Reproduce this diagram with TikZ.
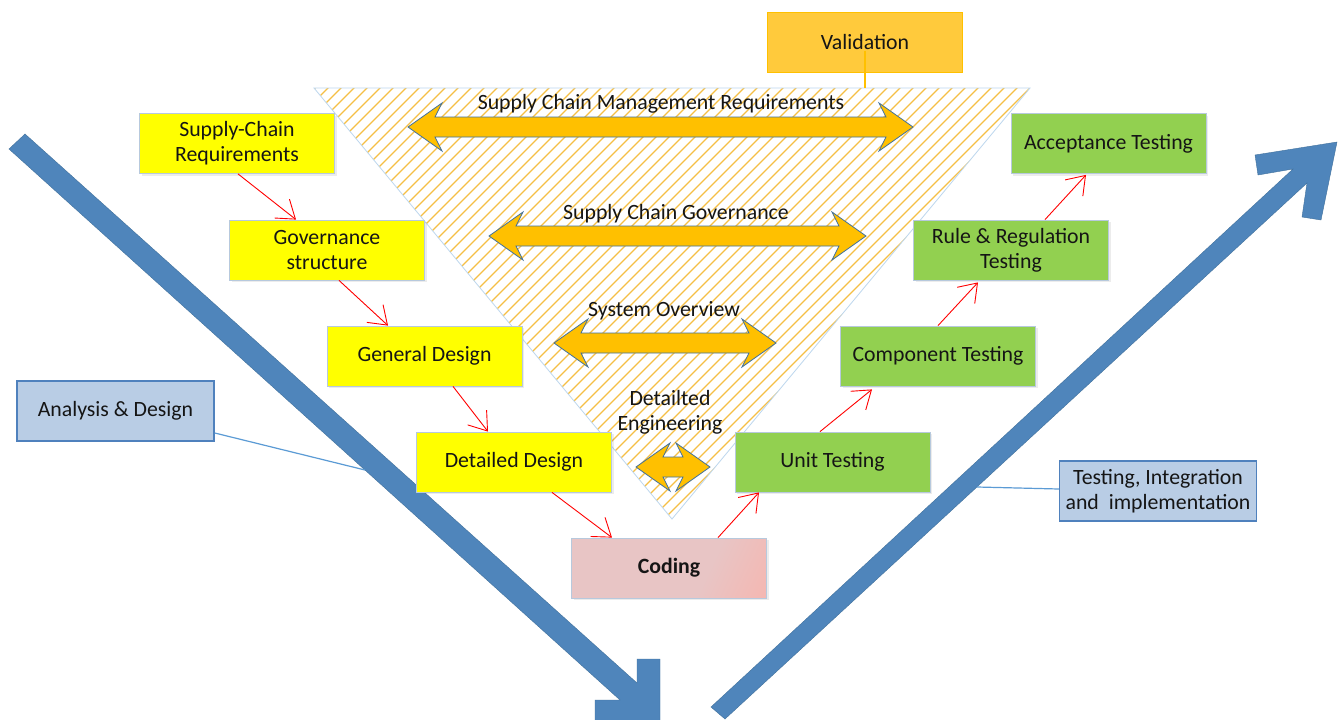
\documentclass[tikz,border=0pt]{standalone}
\usepackage{fontspec}
\setmainfont{Carlito}
\usetikzlibrary{arrows.meta,shadows}
\definecolor{yel}{HTML}{FFFF00}
\definecolor{grn}{HTML}{92D050}
\definecolor{boxline}{HTML}{B7C9DD}
\definecolor{orng}{HTML}{FFC000}
\definecolor{arrline}{HTML}{41719C}
\definecolor{hatchc}{HTML}{F5BF45}
\definecolor{bigblue}{HTML}{4F85BB}
\definecolor{lblue}{HTML}{B9CDE5}
\definecolor{lblueline}{HTML}{4F81BD}
\definecolor{connc}{HTML}{5B9BD5}
\definecolor{valfill}{HTML}{FFCA3C}
\definecolor{valline}{HTML}{FFC000}
\definecolor{codA}{HTML}{E8C5C5}
\definecolor{codB}{HTML}{FFACA2}
\definecolor{tric}{HTML}{BDD7EE}
\definecolor{txt}{HTML}{151515}
\pgfdeclarehorizontalshading{codshade}{100bp}{color(0bp)=(codA); color(62bp)=(codA); color(100bp)=(codB)}
\newcommand{\dblarr}[3]{%
  \draw[dblstyle] (#1,#3) -- (#1+34,#3-24) -- (#1+27,#3-10) -- (#2-27,#3-10) -- (#2-34,#3-24) -- (#2,#3)
    -- (#2-34,#3+24) -- (#2-27,#3+10) -- (#1+27,#3+10) -- (#1+34,#3+24) -- cycle;}
\tikzset{
  stagebox/.style={draw=boxline, line width=0.8pt, minimum width=195, minimum height=60, inner sep=0pt,
    align=center, text=txt, font=\fontsize{21.8}{25}\selectfont,
    drop shadow={opacity=0.15, shadow xshift=2pt, shadow yshift=-2pt}},
  infobox/.style={draw=lblueline, fill=lblue, line width=1.5pt, minimum width=197, minimum height=60,
    inner sep=0pt, align=center, text=txt, font=\fontsize{21.8}{25}\selectfont},
  lbl/.style={text=txt, font=\fontsize{21.8}{25}\selectfont, align=center, inner sep=0pt},
  dblstyle/.style={fill=orng, draw=arrline, line width=0.8pt, line join=miter},
  redarr/.style={draw=red, line width=0.9pt, -{Straight Barb[length=17pt,width=24pt]}},
  connline/.style={draw=connc, line width=1.2pt},
  bigarr/.style={fill=bigblue, draw=arrline, line width=0.4pt}
}
\begin{document}
\begin{tikzpicture}[x=1pt,y=-1pt]
\useasboundingbox (0,0) rectangle (1341,720);
\fill[white] (0,0) rectangle (1341,720);
% hatched triangle
\begin{scope}
  \clip (314,88) -- (1030,88) -- (672,519) -- cycle;
  \foreach \a in {-140,-127,...,1050} {
    \draw[hatchc, line width=1.2pt] (\a,530) -- (\a+460,70);
  }
\end{scope}
\draw[tric, line width=0.8pt] (314,88) -- (1030,88) -- (672,519) -- cycle;
% double arrows
\dblarr{408}{913}{127}
\dblarr{489}{866}{236}
\dblarr{554}{776}{343}
\dblarr{636}{710}{467}
\node[lbl] (t1) at (661,104) {Supply Chain Management Requirements};
\node[lbl] (t2) at (676,214) {Supply Chain Governance};
\node[lbl] (t3) at (664,311) {System Overview};
\node[lbl] (t4) at (670,412) {Detailted\\Engineering};
% validation
\node[draw=valline, fill=valfill, line width=1.5pt, minimum width=195, minimum height=60, text=txt,
  font=\fontsize{21.8}{25}\selectfont] (val) at (865,42.5) {Validation};
\coordinate (valtop) at (865,88);
\draw[valline, line width=1.2pt] ([yshift=-8pt]val.center) -- (valtop);
% big blue arrows
\begin{scope}
  \clip (0,0) rectangle (1341,720);
  \draw[bigarr] (9,149) -- (25,134) -- (637,683) -- (637,659) -- (660,659) -- (660,740) -- (595,740) -- (595,700) -- (620,700) -- cycle;
  \draw[bigarr] (711,707) -- (1293,169) -- (1258,175) -- (1255,155) -- (1337,142) -- (1321,220) -- (1302,217) -- (1307,183) -- (725,719) -- cycle;
\end{scope}
\coordinate (lefthit) at (365,470);
\coordinate (righthit) at (977,487);
% stage boxes
\node[stagebox, fill=yel] (scr) at (237,143.5) {Supply-Chain\\Requirements};
\node[stagebox, fill=yel] (gov) at (327,250) {Governance\\structure};
\node[stagebox, fill=yel] (gend) at (424.5,356) {General Design};
\node[stagebox, fill=yel] (detd) at (514,462) {Detailed Design};
\node[stagebox, shade, shading=codshade, shading angle=-25,
  font=\fontsize{21.8}{25}\selectfont\bfseries] (coding) at (669,568) {Coding};
\node[stagebox, fill=grn] (unit) at (832.5,462) {Unit Testing};
\node[stagebox, fill=grn] (comp) at (938,356) {Component Testing};
\node[stagebox, fill=grn] (rule) at (1011,250) {Rule \& Regulation\\Testing};
\node[stagebox, fill=grn] (acc) at (1108.5,143.5) {Acceptance Testing};
% red arrows
\draw[redarr] ([xshift=1pt]scr.south) -- ([xshift=-31pt]gov.north);
\draw[redarr] ([xshift=12pt]gov.south) -- ([xshift=-36.5pt]gend.north);
\draw[redarr] ([xshift=28.5pt]gend.south) -- ([xshift=-26pt]detd.north);
\draw[redarr] ([xshift=38pt]detd.south) -- ([xshift=-57pt]coding.north);
\draw[redarr] ([xshift=49pt]coding.north) -- ([xshift=-73.5pt]unit.south);
\draw[redarr] ([xshift=-12.5pt]unit.north) -- ([xshift=-66pt,yshift=-3pt]comp.south);
\draw[redarr] (comp.north) -- ([xshift=-33pt,yshift=-2pt]rule.south);
\draw[redarr] ([xshift=34pt]rule.north) -- ([xshift=-22.5pt,yshift=-1pt]acc.south);
% info boxes
\node[infobox] (ad) at (115.5,411) {Analysis \& Design};
\node[infobox] (tim) at (1158,491) {Testing, Integration\\and~ implementation};
\draw[connline] ([yshift=-22pt]ad.east) -- (lefthit);
\draw[connline] ([yshift=2pt]tim.west) -- (righthit);
\end{tikzpicture}
\end{document}
